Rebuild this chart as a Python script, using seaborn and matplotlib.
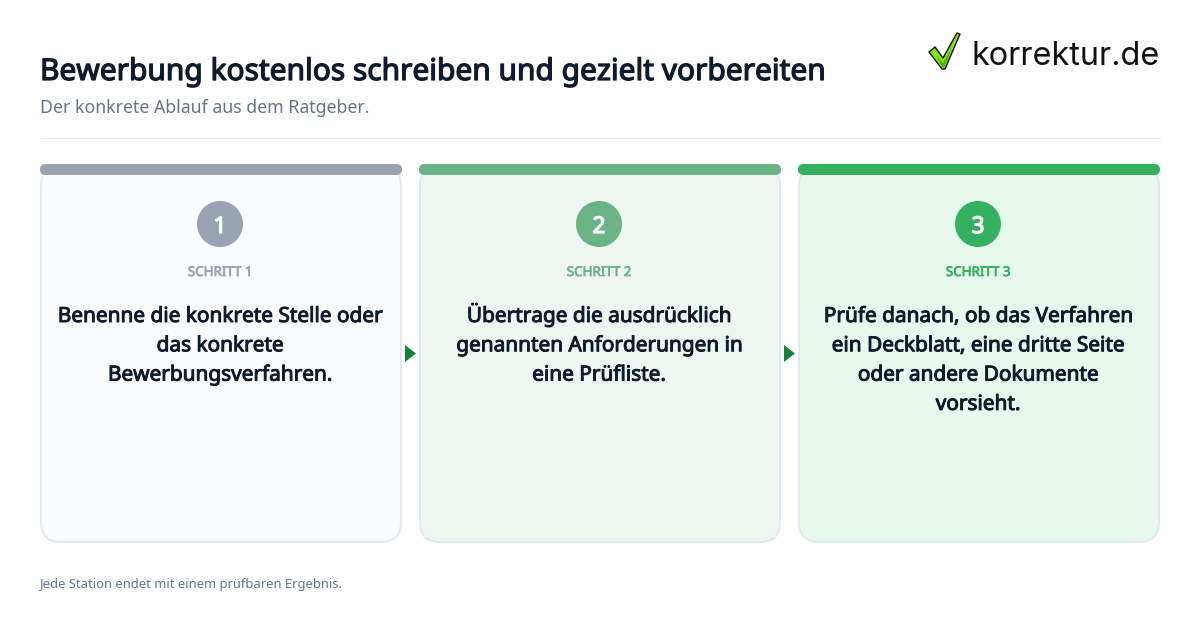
import matplotlib
matplotlib.use("Agg")
import matplotlib.pyplot as plt
import matplotlib.patheffects as pe
from matplotlib.patches import FancyBboxPatch, Polygon
import pandas as pd
import seaborn as sns

title = "Bewerbung kostenlos schreiben und gezielt vorbereiten"
subtitle = "Der konkrete Ablauf aus dem Ratgeber."
footer = "Jede Station endet mit einem prüfbaren Ergebnis."
logo_text = "korrektur.de"

step_numbers = ["1", "2", "3"]
step_labels = ["SCHRITT 1", "SCHRITT 2", "SCHRITT 3"]
step_texts = [
    ["Benenne die konkrete Stelle oder", "das konkrete", "Bewerbungsverfahren."],
    ["Übertrage die ausdrücklich", "genannten Anforderungen in", "eine Prüfliste."],
    ["Prüfe danach, ob das Verfahren", "ein Deckblatt, eine dritte Seite", "oder andere Dokumente", "vorsieht."],
]
accent_colors = ["#98a2b3", "#6ab384", "#34b05f"]
card_colors = ["#f9fbfd", "#eff6f1", "#e7f8ed"]
arrow_color = "#15803d"
ink = "#0f1b2d"
muted = "#64748b"
border = "#e2e8f0"

sns.set_theme(style="white")
plt.rcParams["font.family"] = ["Noto Sans", "DejaVu Sans"]

fig = plt.figure(figsize=(12, 6.3), dpi=100, facecolor="white")
ax = fig.add_axes([0, 0, 1, 1])


def px(size):
    # css pixels to points
    return size * 0.72


def heavy(color, width):
    # Noto Sans only comes as regular here, thicken it with a stroke
    return [pe.withStroke(linewidth=width, foreground=color)]


card_w = 362
card_step = 379
lefts = [40 + i * card_step for i in range(3)]
centers = [x + 180 for x in lefts]

# number badges
badges = pd.DataFrame({"x": centers, "y": [224] * 3, "step": step_numbers})
sns.scatterplot(data=badges, x="x", y="y", hue="step", palette=accent_colors, s=1097,
                linewidth=0, legend=False, ax=ax, zorder=3)
ax.set_xlim(0, 1200)
ax.set_ylim(630, 0)
ax.axis("off")

ax.text(40, 80, title, fontsize=px(29.9), color=ink, va="baseline", ha="left",
        path_effects=heavy(ink, 0.9))
ax.text(40, 113, subtitle, fontsize=px(17.7), color=muted, va="baseline", ha="left")
ax.plot([40, 1160], [138, 138], color=border, lw=0.8)

for i, left in enumerate(lefts):
    card = FancyBboxPatch((left + 1, 166), card_w - 2, 376,
                          boxstyle="round,pad=0,rounding_size=20",
                          fc=card_colors[i], ec=border, lw=1.44, zorder=1)
    ax.add_patch(card)
    top = FancyBboxPatch((left, 164), card_w, 11,
                         boxstyle="round,pad=0,rounding_size=5.5",
                         fc=accent_colors[i], ec="none", zorder=2)
    ax.add_patch(top)
    ax.text(centers[i], 276, step_labels[i], fontsize=px(13.4), color=accent_colors[i],
            ha="center", va="baseline", zorder=4, path_effects=heavy(accent_colors[i], 0.5))
    for j, line in enumerate(step_texts[i]):
        ax.text(centers[i], 322 + j * 29.3, line, fontsize=px(20.8), color=ink,
                ha="center", va="baseline", zorder=4, path_effects=heavy(ink, 0.7))

for i, num in enumerate(step_numbers):
    ax.text(centers[i], 233, num, fontsize=px(23), color="white", ha="center", va="baseline",
            zorder=4, path_effects=heavy("white", 0.9))

# arrows between the cards
for left in lefts[1:]:
    ax.add_patch(Polygon([(left - 14, 345), (left - 14, 362), (left - 3, 353.5)],
                         closed=True, fc=arrow_color, ec="none", zorder=3))

ax.text(40, 588, footer, fontsize=px(13), color=muted, va="baseline", ha="left")

# logo
ax.add_patch(Polygon([(929, 52), (935, 47), (943, 58), (957, 33), (960, 34), (945, 69), (942, 69)],
                     closed=True, fc="#84e60c", ec="#111111", lw=1.0, joinstyle="round", zorder=3))
ax.add_patch(Polygon([(936, 55), (943, 63), (953, 46), (944, 67), (942, 67)],
                     closed=True, fc="#4fb012", ec="none", zorder=4))
ax.text(971, 65, logo_text, fontsize=px(32.4), color="#111111", family="Inter",
        va="baseline", ha="left")

fig.savefig("out.png", dpi=100, facecolor="white")
plt.close(fig)
